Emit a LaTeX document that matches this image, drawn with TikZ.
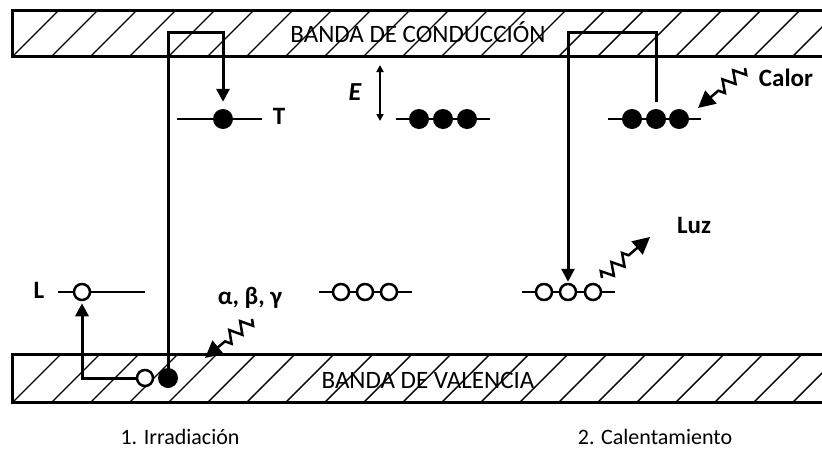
\documentclass[tikz,border=0pt]{standalone}
\usepackage{fontspec}
\setmainfont{Carlito}
\usepackage{tikz}
\usetikzlibrary{arrows.meta,positioning,calc,decorations.pathmorphing}

\begin{document}
\begin{tikzpicture}[x=1pt,y=-1pt,
  conn/.style={line width=3pt},
  lvl/.style={line width=2.5pt},
  edot/.style={circle,fill=black,minimum size=20pt,inner sep=0pt},
  hdot/.style={circle,draw=black,fill=white,line width=2.5pt,minimum size=16pt,inner sep=0pt},
  lbl/.style={font=\fontsize{25}{28}\selectfont\bfseries},
  zz/.style={decoration={zigzag,segment length=14pt,amplitude=6pt}},
  wave/.style={line width=2.5pt,-{Triangle[length=17pt,width=17pt]}},
  tip/.style={-{Triangle[length=13pt,width=13pt]}}]
\useasboundingbox (0,0) rectangle (822,464);

% bands
\begin{scope}
\clip (12,10) rectangle (830,56);
\foreach \i in {0,...,21} \draw[line width=1.4pt] (13+39*\i,56) -- ++(46,-46);
\end{scope}
\begin{scope}
\clip (12,354) rectangle (830,402);
\foreach \i in {0,...,21} \draw[line width=1.4pt] (13+39*\i,402) -- ++(48,-48);
\end{scope}
\draw[line width=3pt] (830,10) -- (12,10) -- (12,56) -- (830,56);
\draw[line width=3pt] (830,354) -- (12,354) -- (12,402) -- (830,402);
\node[font=\fontsize{25}{28}\selectfont] (cb) at (418,32) {BANDA DE CONDUCCIÓN};
\node[font=\fontsize{25}{28}\selectfont] (vb) at (428,380) {BANDA DE VALENCIA};

% levels
\draw[lvl] (177,119) -- (262,119);
\draw[lvl] (396,119) -- (490,119);
\draw[lvl] (608,119) -- (701,119);
\draw[lvl] (58,292) -- (145,292);
\draw[lvl] (319,292) -- (412,292);
\draw[lvl] (522,292) -- (615,292);

% electrons and holes
\node[edot] (tdot) at (223,119) {};
\node[edot] (ma) at (419,119) {};
\node[edot] (mb) at (443,119) {};
\node[edot] (mc) at (467,119) {};
\node[edot] (ra) at (632,119) {};
\node[edot] (rb) at (656,119) {};
\node[edot] (rc) at (679,119) {};
\node[hdot] (la) at (82,292) {};
\node[hdot] (na) at (341,292) {};
\node[hdot] (nb) at (365,292) {};
\node[hdot] (nc) at (389,292) {};
\node[hdot] (ha) at (544,292) {};
\node[hdot] (hb) at (568,292) {};
\node[hdot] (hc) at (593,292) {};
\node[hdot] (vh) at (145,378) {};
\node[edot] (ve) at (168,378) {};

% labels
\node[lbl] (tl) at (279,116) {T};
\node[lbl] (ll) at (39,290) {L};
\node[lbl,font=\fontsize{26}{28}\selectfont\bfseries\itshape] (el) at (355,92) {E};
\node[lbl] (cl) at (786,78) {Calor};
\node[lbl] (lz) at (694,225) {Luz};
\node[lbl] (abg) at (250,298) {α, β, γ};

% transitions
\coordinate (irtop) at (168,32);
\draw[conn,tip,shorten >=7pt] (ve.center) -- (irtop) -| (tdot.north);
\draw[conn,tip,shorten >=2pt] (vh.west) -| (la.south);
\coordinate (thtop) at (656,32);
\draw[conn,tip,shorten <=7pt,shorten >=1pt] (rb.north) -- (thtop) -| (hb.north);
\coordinate (ea) at (380,65);
\coordinate (eb) at (380,121);
\draw[line width=1.8pt,{Triangle[length=7pt,width=7pt]}-{Triangle[length=7pt,width=7pt]}] (ea) -- (eb);

% radiation
\coordinate (calors) at (745,68);
\coordinate (calore) at (698,108);
\draw[wave,zz] (calors) decorate {-- ($(calors)!0.62!(calore)$)} -- (calore);
\coordinate (luzs) at (602,278);
\coordinate (luze) at (650,237);
\draw[wave,zz] (luzs) decorate {-- ($(luzs)!0.62!(luze)$)} -- (luze);
\coordinate (abgs) at (252,319);
\coordinate (abge) at (205,358);
\draw[wave,zz] (abgs) decorate {-- ($(abgs)!0.62!(abge)$)} -- (abge);

% captions
\node[font=\fontsize{22}{24}\selectfont] (c1) at (180,437) {1. Irradiación};
\node[font=\fontsize{22}{24}\selectfont] (c2) at (655,437) {2. Calentamiento};
\end{tikzpicture}
\end{document}
